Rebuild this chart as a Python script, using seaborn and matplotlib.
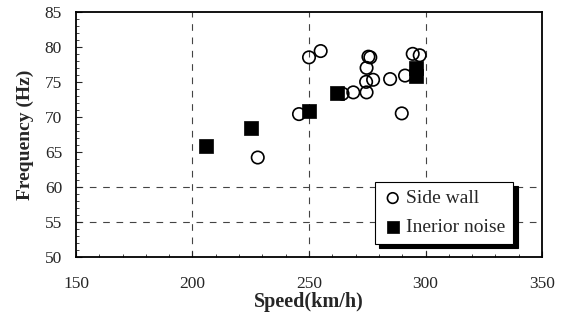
import numpy as np
import pandas as pd
import matplotlib
matplotlib.use("Agg")
import matplotlib.pyplot as plt
import seaborn as sns
from matplotlib.ticker import MultipleLocator

# data
side_speed = [228, 245.7, 250, 255, 264.4, 269, 274.7, 274.5, 277.5, 274.7,
              275.5, 276.3, 284.8, 289.8, 291.2, 294.5, 297.5]
side_freq = [64.2, 70.4, 78.5, 79.4, 73.3, 73.5, 73.5, 75.0, 75.3, 77.0,
             78.6, 78.5, 75.4, 70.5, 75.9, 79.0, 78.8]
noise_speed = [205.7, 225.1, 250.1, 261.9, 296, 296]
noise_freq = [65.9, 68.4, 70.8, 73.4, 77.0, 75.8]

sns.set_style("white")
plt.rcParams['font.family'] = ['Liberation Serif', 'DejaVu Serif']

fig = plt.figure(figsize=(5.67, 3.2), dpi=100)
ax = fig.add_axes([0.134, 0.197, 0.822, 0.766])

# grid lines (only a few drawn in the original)
for xv in [200, 250, 300]:
    ax.axvline(xv, color='#444444', lw=0.8, ls=(0, (6, 6)), zorder=0)
for yv in [55, 60]:
    ax.axhline(yv, color='#444444', lw=0.8, ls=(0, (6, 6)), zorder=0)

sns.scatterplot(x=side_speed, y=side_freq, ax=ax, marker='o', s=80,
                facecolor='none', edgecolor='black', linewidth=1.2,
                label='Side wall', zorder=3)
sns.scatterplot(x=noise_speed, y=noise_freq, ax=ax, marker='s', s=90,
                color='black', edgecolor='black', linewidth=0.5,
                label='Inerior noise', zorder=4)

ax.set_xlim(150, 350)
ax.set_ylim(50, 85)
ax.xaxis.set_major_locator(MultipleLocator(50))
ax.yaxis.set_major_locator(MultipleLocator(5))
ax.yaxis.set_minor_locator(MultipleLocator(1))
ax.xaxis.set_minor_locator(MultipleLocator(10))
ax.tick_params(axis='both', which='both', direction='in', labelsize=12.5,
               left=True, bottom=True)
ax.tick_params(axis='x', which='major', length=4, pad=14)
ax.tick_params(axis='y', which='major', length=4, pad=10)
ax.tick_params(which='minor', length=2)

for sp in ax.spines.values():
    sp.set_color('black')
    sp.set_linewidth(1.3)

ax.set_xlabel('Speed(km/h)', fontsize=14.5, fontweight='bold', labelpad=0)
ax.set_ylabel('Frequency (Hz)', fontsize=14, fontweight='bold', labelpad=8)

leg = ax.legend(loc='lower left', bbox_to_anchor=(0.642, 0.052),
                borderaxespad=0, frameon=True, fancybox=False,
                shadow={'color': 'black', 'alpha': 1, 'ox': 3, 'oy': -3},
                fontsize=14, handletextpad=0.2, handlelength=1.0,
                borderpad=0.4, labelspacing=0.6, framealpha=1,
                markerscale=0.85)
leg.get_frame().set_edgecolor('black')
leg.get_frame().set_linewidth(0.8)

fig.savefig("out.png", dpi=100)
